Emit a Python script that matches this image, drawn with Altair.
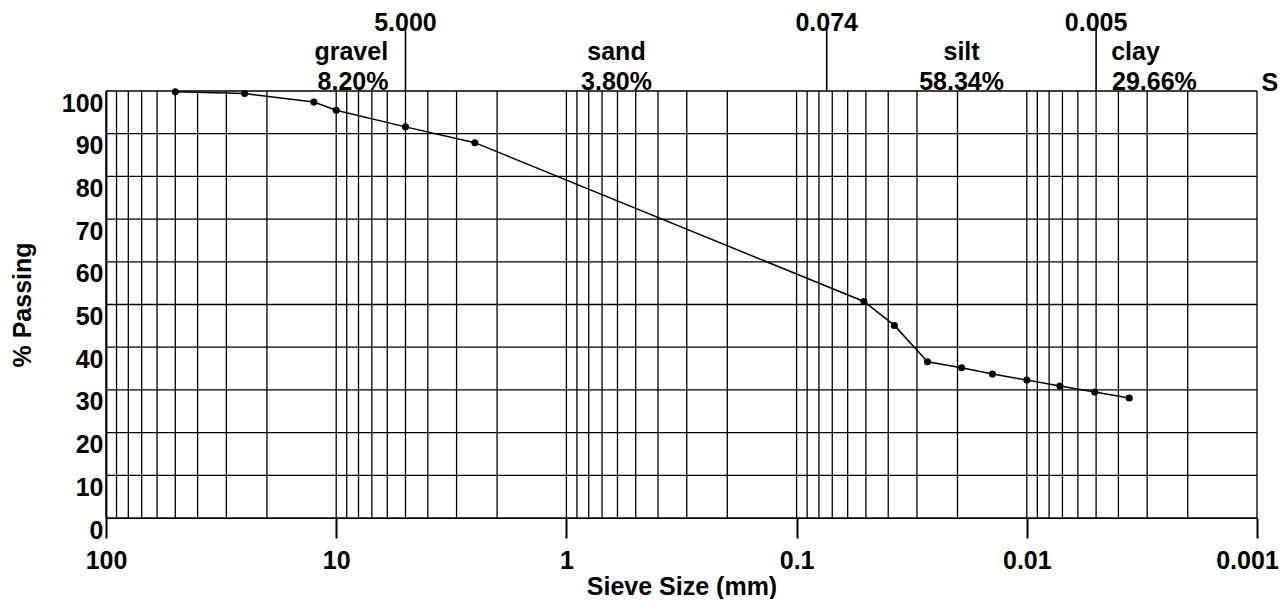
import altair as alt
import pandas as pd

# ---- data ----
sieve_mm = [50, 25, 12.5, 10, 5, 2.5, 0.051, 0.0376, 0.027, 0.0192, 0.0141, 0.01, 0.00718, 0.00507, 0.00359]
pct_passing = [99.8, 99.4, 97.4, 95.5, 91.6, 87.9, 50.7, 45.1, 36.6, 35.2, 33.7, 32.3, 30.9, 29.5, 28.1]

x_tick_values = [100, 10, 1, 0.1, 0.01, 0.001]
y_tick_values = [0, 10, 20, 30, 40, 50, 60, 70, 80, 90, 100]
grid_x_values = [k * 10.0 ** e for e in range(-3, 2) for k in range(1, 10)] + [100]

boundary_sizes = [5.0, 0.074, 0.005]
boundary_labels = ["5.000", "0.074", "0.005"]

fraction_names = ["gravel", "sand", "silt", "clay"]
fraction_name_x = [8.6, 0.606, 0.0192, 0.00337]
fraction_pcts = ["8.20%", "3.80%", "58.34%", "29.66%"]
fraction_pct_x = [8.45, 0.606, 0.0192, 0.00279]

extra_label = ["S"]
extra_label_x = [0.00081]

# annotation heights (in % passing units, above the plot)
BOUNDARY_LABEL_Y = 114.0
BOUNDARY_TOP_Y = 115.0
NAME_Y = 107.2
PCT_Y = 100.25

FONT = "Liberation Sans"
FS = 25

W, H = 1151, 427

xscale = alt.Scale(type="log", domain=[0.001, 100], reverse=True, nice=False)
yscale = alt.Scale(domain=[0, 100], nice=False, zero=False)

df_pts = pd.DataFrame({"d": sieve_mm, "p": pct_passing})
df_gx = pd.DataFrame({"d": grid_x_values})
df_gy = pd.DataFrame({"p": y_tick_values})
df_b = pd.DataFrame({"d": boundary_sizes, "lab": boundary_labels,
                     "p": [100] * 3, "y2": [BOUNDARY_TOP_Y] * 3, "ty": [BOUNDARY_LABEL_Y] * 3})
df_n = pd.DataFrame({"d": fraction_name_x, "lab": fraction_names, "ty": [NAME_Y] * 4})
df_pc = pd.DataFrame({"d": fraction_pct_x, "lab": fraction_pcts, "ty": [PCT_Y] * 4})
df_s = pd.DataFrame({"d": extra_label_x, "lab": extra_label, "ty": [99.9]})

xaxis = alt.Axis(
    values=x_tick_values, format="~g", grid=False,
    tickSize=20, tickWidth=2, tickColor="black",
    domain=True, domainColor="black", domainWidth=1.2,
    labelPadding=10, labelFontSize=FS, labelFontWeight="bold", labelColor="black",
    labelFont=FONT, labelFlush=False, labelOverlap=False, labelBound=False,
    labelOffset={"condition": {"test": "datum.value < 0.005", "value": -10}, "value": 0},
    title="Sieve Size (mm)", titleFontSize=FS, titleFontWeight="bold", titleFont=FONT,
    titleColor="black", titleX=W / 2, titleY=76, titleBaseline="alphabetic",
)
yaxis = alt.Axis(
    values=y_tick_values, grid=False, ticks=False, tickSize=0,
    domain=True, domainColor="black", domainWidth=1.8,
    labelPadding=3, labelBaseline="top", labelFontSize=FS, labelFontWeight="bold",
    labelColor="black", labelFont=FONT, labelFlush=False, labelOverlap=False, labelBound=False,
    title="% Passing", titleFontSize=FS, titleFontWeight="bold", titleFont=FONT,
    titleColor="black", titleX=-76, titleY=H / 2, titleBaseline="alphabetic",
)

X = lambda f: alt.X(f, scale=xscale, axis=xaxis)
Y = lambda f: alt.Y(f, scale=yscale, axis=yaxis)

grid_v = alt.Chart(df_gx).mark_rule(color="black", strokeWidth=1.3).encode(x=X("d:Q"))
grid_h = alt.Chart(df_gy).mark_rule(color="black", strokeWidth=1.3).encode(y=Y("p:Q"))
line = alt.Chart(df_pts).mark_line(color="black", strokeWidth=1.5).encode(x=X("d:Q"), y=Y("p:Q"))
pts = alt.Chart(df_pts).mark_circle(color="black", size=50, opacity=1).encode(x=X("d:Q"), y=Y("p:Q"))
b_rules = alt.Chart(df_b).mark_rule(color="black", strokeWidth=1.6).encode(
    x=X("d:Q"), y=Y("p:Q"), y2="y2:Q"
)


def text_layer(df, align="center"):
    return alt.Chart(df).mark_text(
        font=FONT, fontSize=FS, fontWeight="bold", color="black",
        align=align, baseline="alphabetic",
    ).encode(x=X("d:Q"), y=Y("ty:Q"), text="lab:N")


chart = alt.layer(
    grid_v, grid_h, b_rules, line, pts,
    text_layer(df_b), text_layer(df_n), text_layer(df_pc), text_layer(df_s, "right"),
).properties(
    width=W, height=H,
    autosize=alt.AutoSizeParams(type="none"),
    padding={"left": 98, "top": 83, "right": 22, "bottom": 81},
    background="white",
).configure_view(stroke=None)

chart.save("out.html", embed_options={"renderer": "svg", "actions": False})
